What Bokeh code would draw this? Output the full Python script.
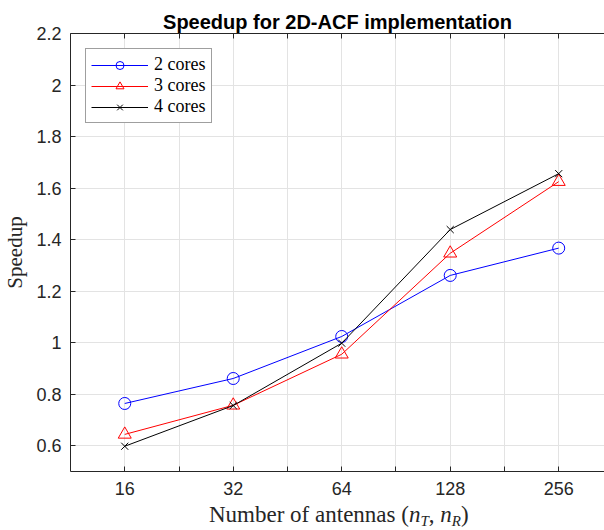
from bokeh.plotting import figure
from bokeh.layouts import column
from bokeh.models import (Range1d, FixedTicker, LogAxis, CustomJSTickFormatter, Div)
from bokeh.embed import file_html
from bokeh.resources import INLINE

# ---- data ----
antennas = [16, 32, 64, 128, 256]
speedup_2 = [0.764, 0.861, 1.024, 1.261, 1.367]
speedup_3 = [0.644, 0.757, 0.955, 1.347, 1.625]
speedup_4 = [0.598, 0.756, 0.998, 1.439, 1.656]
series_labels = ["2 cores", "3 cores", "4 cores"]
x_ticks = [16, 32, 64, 128, 256]
x_minor_ticks = [22.63, 45.25, 90.51, 181.02]
y_ticks = [0.6, 0.8, 1.0, 1.2, 1.4, 1.6, 1.8, 2.0, 2.2]
title_text = "Speedup for 2D-ACF implementation"
ylabel_text = "Speedup"
xlabel_html = ('Number of antennas (<i>n</i><sub style="font-size:15px;vertical-align:-4px;line-height:0">'
               '<i>T</i></sub>, <i>n</i><sub style="font-size:15px;vertical-align:-4px;line-height:0">'
               '<i>R</i></sub>)')

AX = "#262626"
GRID = "#e3e3e3"

p = figure(width=604, height=503, x_axis_type="log",
           x_range=Range1d(11.314, 343.0), y_range=Range1d(0.5, 2.2),
           output_backend="svg", toolbar_location=None,
           min_border_left=70, min_border_right=0, min_border_top=33,
           min_border_bottom=32)
p.outline_line_color = None
p.background_fill_color = "white"

xticker = FixedTicker(ticks=x_ticks, minor_ticks=x_minor_ticks)
yticker = FixedTicker(ticks=y_ticks)

def style_axis(ax):
    ax.axis_line_color = AX
    ax.axis_line_width = 1
    ax.major_tick_line_color = AX
    ax.minor_tick_line_color = AX
    ax.major_tick_in = 5
    ax.major_tick_out = 0
    ax.minor_tick_in = 5
    ax.minor_tick_out = 0
    ax.major_label_text_font = "Liberation Sans"
    ax.major_label_text_font_size = "18px"
    ax.major_label_text_color = AX

xa = p.below[0]
xa.ticker = xticker
xa.formatter = CustomJSTickFormatter(code="return tick.toString()")
style_axis(xa)
xa.major_label_standoff = 10

ya = p.left[0]
ya.ticker = yticker
ya.formatter = CustomJSTickFormatter(code="return (+tick.toFixed(2)).toString()")
style_axis(ya)
ya.minor_tick_line_color = None
ya.major_label_standoff = 9
ya.axis_label = ylabel_text
ya.axis_label_text_font = "Liberation Serif"
ya.axis_label_text_font_style = "normal"
ya.axis_label_text_font_size = "21px"
ya.axis_label_text_color = AX
ya.axis_label_standoff = 6

top = LogAxis(ticker=xticker, formatter=CustomJSTickFormatter(code="return ''"))
style_axis(top)
top.major_label_standoff = 0
top.major_label_text_font_size = "1px"
p.add_layout(top, "above")

p.xgrid.grid_line_color = GRID
p.xgrid.minor_grid_line_color = GRID
p.ygrid.grid_line_color = GRID

# ---- series ----
colors = ["#0000ff", "#ff0000", "#000000"]
markers = ["circle", "triangle", "x"]
sizes = [12, 13, 10]
for ys, c, m, s, lab in zip([speedup_2, speedup_3, speedup_4], colors, markers, sizes, series_labels):
    p.line(antennas, ys, line_color=c, line_width=1, legend_label=lab)
    p.scatter(antennas, ys, marker=m, size=s, line_color=c, fill_color=None,
              line_width=1, legend_label=lab)

lg = p.legend[0]
lg.location = "top_left"
lg.margin = 15
lg.padding = 5
lg.spacing = 0
lg.glyph_width = 57
lg.glyph_height = 20
lg.label_height = 20
lg.label_width = 52
lg.label_standoff = 6
lg.border_line_color = "#404040"
lg.border_line_width = 1
lg.background_fill_alpha = 1
lg.label_text_font = "Liberation Serif"
lg.label_text_font_size = "18px"
lg.label_text_color = "#000000"

# ---- title ----
p.title.text = title_text
p.title.text_font = "Liberation Sans"
p.title.text_font_style = "bold"
p.title.text_font_size = "20px"
p.title.align = "center"
p.title.text_color = "#000000"
p.title.standoff = 2

# ---- x label (with subscripts) ----
xlabel = Div(text=xlabel_html, width=604, height=27, margin=0,
             styles={"font-family": "Liberation Serif", "font-size": "23px",
                     "color": AX, "line-height": "24px", "text-indent": "209px",
                     "white-space": "nowrap", "overflow": "visible"})

layout = column(p, xlabel, spacing=0)
open("out.html", "w").write(file_html(layout, INLINE))
